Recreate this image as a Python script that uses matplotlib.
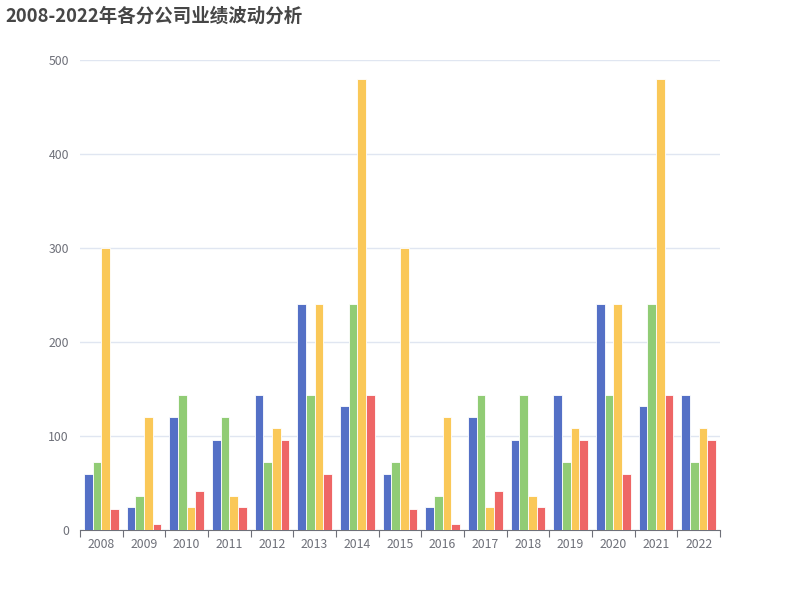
import matplotlib
matplotlib.use('Agg')
import matplotlib.pyplot as plt
import numpy as np

plt.rcParams['font.family'] = ['Noto Sans CJK SC', 'DejaVu Sans']

years = [str(y) for y in range(2008, 2023)]
series_a = [60, 24, 120, 96, 144, 240, 132, 60, 24, 120, 96, 144, 240, 132, 144]
series_b = [72, 36, 144, 120, 72, 144, 240, 72, 36, 144, 144, 72, 144, 240, 72]
series_c = [300, 120, 24, 36, 108, 240, 480, 300, 120, 24, 36, 108, 240, 480, 108]
series_d = [22, 6, 42, 24, 96, 60, 144, 22, 6, 42, 24, 96, 60, 144, 96]
colors = ['#5470c6', '#91cc75', '#fac858', '#ee6666']

fig = plt.figure(figsize=(8, 6), dpi=100)
ax = fig.add_axes([0.1, 70 / 600, 0.8, 470 / 600])

x = np.arange(len(years))
pitch = 0.204
for i, (vals, c) in enumerate(zip([series_a, series_b, series_c, series_d], colors)):
    ax.bar(x + (i - 1.5) * pitch, vals, width=pitch, color=c,
           edgecolor='white', linewidth=0.6, zorder=3)

ax.set_xlim(-0.5, len(years) - 0.5)
ax.set_ylim(0, 500)
ax.set_yticks([0, 100, 200, 300, 400, 500])
ax.grid(axis='y', color='#E0E6F1', linewidth=1, zorder=0)
ax.tick_params(axis='y', length=0, pad=8, labelsize=8.8, labelcolor='#6E7079')

# ticks between categories, labels centred
ax.set_xticks(np.arange(len(years) + 1) - 0.5)
ax.set_xticklabels([])
ax.set_xticks(x, minor=True)
ax.set_xticklabels(years, minor=True)
ax.tick_params(axis='x', which='major', length=5, color='#6E7079', direction='out')
ax.tick_params(axis='x', which='minor', length=0, pad=6, labelsize=8.8, labelcolor='#6E7079')

for s in ['top', 'right', 'left']:
    ax.spines[s].set_visible(False)
ax.spines['bottom'].set_color('#6E7079')

fig.text(5 / 800, 1 - 16 / 600, '2008-2022年各分公司业绩波动分析', fontsize=13.3,
         fontweight='bold', color='#464646', va='center', ha='left')

fig.savefig('out.png', dpi=100)
